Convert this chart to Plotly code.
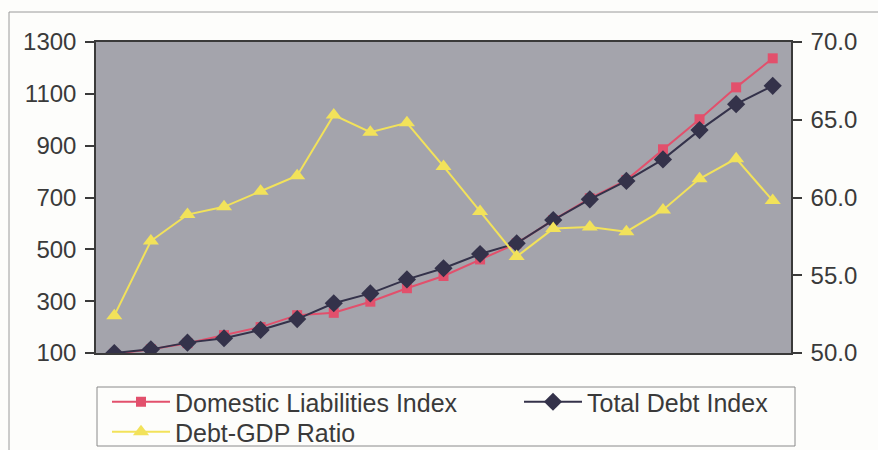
import plotly.graph_objects as go

periods = [str(i) for i in range(1, 20)]
domestic_liabilities_index = [97, 114, 138, 169, 200, 246, 255, 298, 350, 397, 461, 523, 613, 697, 767, 886, 1002, 1125, 1237]
total_debt_index = [100, 114, 140, 157, 189, 231, 292, 330, 384, 427, 482, 523, 613, 693, 764, 847, 960, 1060, 1131]
debt_gdp_ratio = [52.4, 57.2, 58.9, 59.4, 60.4, 61.4, 65.3, 64.2, 64.8, 62.0, 59.1, 56.2, 58.0, 58.1, 57.8, 59.2, 61.2, 62.5, 59.8]

left_ticks = [100, 300, 500, 700, 900, 1100, 1300]
right_ticks = [50, 55, 60, 65, 70]

W, H = 878, 450
L, R, T, B = 96, 87, 42, 97
pw, ph = W - L - R, H - T - B


def px_x(x):
    return (x - L) / pw


def px_y(y):
    return (H - B - y) / ph


fig = go.Figure()
fig.add_trace(go.Scatter(
    x=periods, y=domestic_liabilities_index, name="Domestic Liabilities Index",
    mode="lines+markers", line=dict(color="#e2506c", width=2),
    marker=dict(symbol="square", size=10, color="#e2506c"), legend="legend",
))
fig.add_trace(go.Scatter(
    x=periods, y=total_debt_index, name="Total Debt Index",
    mode="lines+markers", line=dict(color="#34324a", width=2),
    marker=dict(symbol="diamond", size=14, color="#34324a"), legend="legend2",
))
fig.add_trace(go.Scatter(
    x=periods, y=debt_gdp_ratio, name="Debt-GDP Ratio", yaxis="y2",
    mode="lines+markers", line=dict(color="#f2e25a", width=2),
    marker=dict(symbol="triangle-up", size=14, color="#f2e25a"), legend="legend3",
))

tickfont = dict(family="Liberation Sans, Arial, sans-serif", size=24, color="#3a3a3a")
legfont = dict(family="Liberation Sans, Arial, sans-serif", size=25, color="#3a3a3a")


def leg(x, y):
    return dict(
        x=px_x(x), y=px_y(y), xanchor="left", yanchor="middle",
        bgcolor="rgba(0,0,0,0)", borderwidth=0, font=legfont, itemwidth=58,
    )


fig.update_layout(
    width=W, height=H,
    margin=dict(l=L, r=R, t=T, b=B, autoexpand=False),
    paper_bgcolor="#fdfdfb",
    plot_bgcolor="#a4a4ac",
    showlegend=True,
    xaxis=dict(
        type="category", range=[-0.5, 18.5], showticklabels=False, ticks="",
        showgrid=False, zeroline=False, showline=True, linecolor="#3a3a3a", linewidth=1.5, mirror=True,
    ),
    yaxis=dict(
        range=[100, 1300], tickvals=left_ticks, ticks="outside", ticklen=9, tickwidth=1.5,
        tickcolor="#3a3a3a", showgrid=False, zeroline=False, showline=True,
        linecolor="#3a3a3a", linewidth=1.5, tickfont=tickfont, ticklabelstandoff=4,
    ),
    yaxis2=dict(
        range=[50, 70], tickvals=right_ticks, tickformat=".1f", overlaying="y", side="right",
        ticks="outside", ticklen=9, tickwidth=1.5, tickcolor="#3a3a3a", showgrid=False,
        zeroline=False, showline=True, linecolor="#3a3a3a", linewidth=1.5, tickfont=tickfont,
        ticklabelstandoff=4,
    ),
    legend=leg(107, 402),
    legend2=leg(519, 402),
    legend3=leg(107, 432),
    shapes=[
        dict(type="rect", xref="paper", yref="paper",
             x0=px_x(9), x1=px_x(900), y0=px_y(470), y1=px_y(12),
             line=dict(color="#9a9a9a", width=1), fillcolor="rgba(0,0,0,0)", layer="below"),
        dict(type="rect", xref="paper", yref="paper",
             x0=px_x(97), x1=px_x(795), y0=px_y(446), y1=px_y(387),
             line=dict(color="#8a8a8a", width=1), fillcolor="rgba(0,0,0,0)", layer="below"),
    ],
)

fig.write_html("out.html")
